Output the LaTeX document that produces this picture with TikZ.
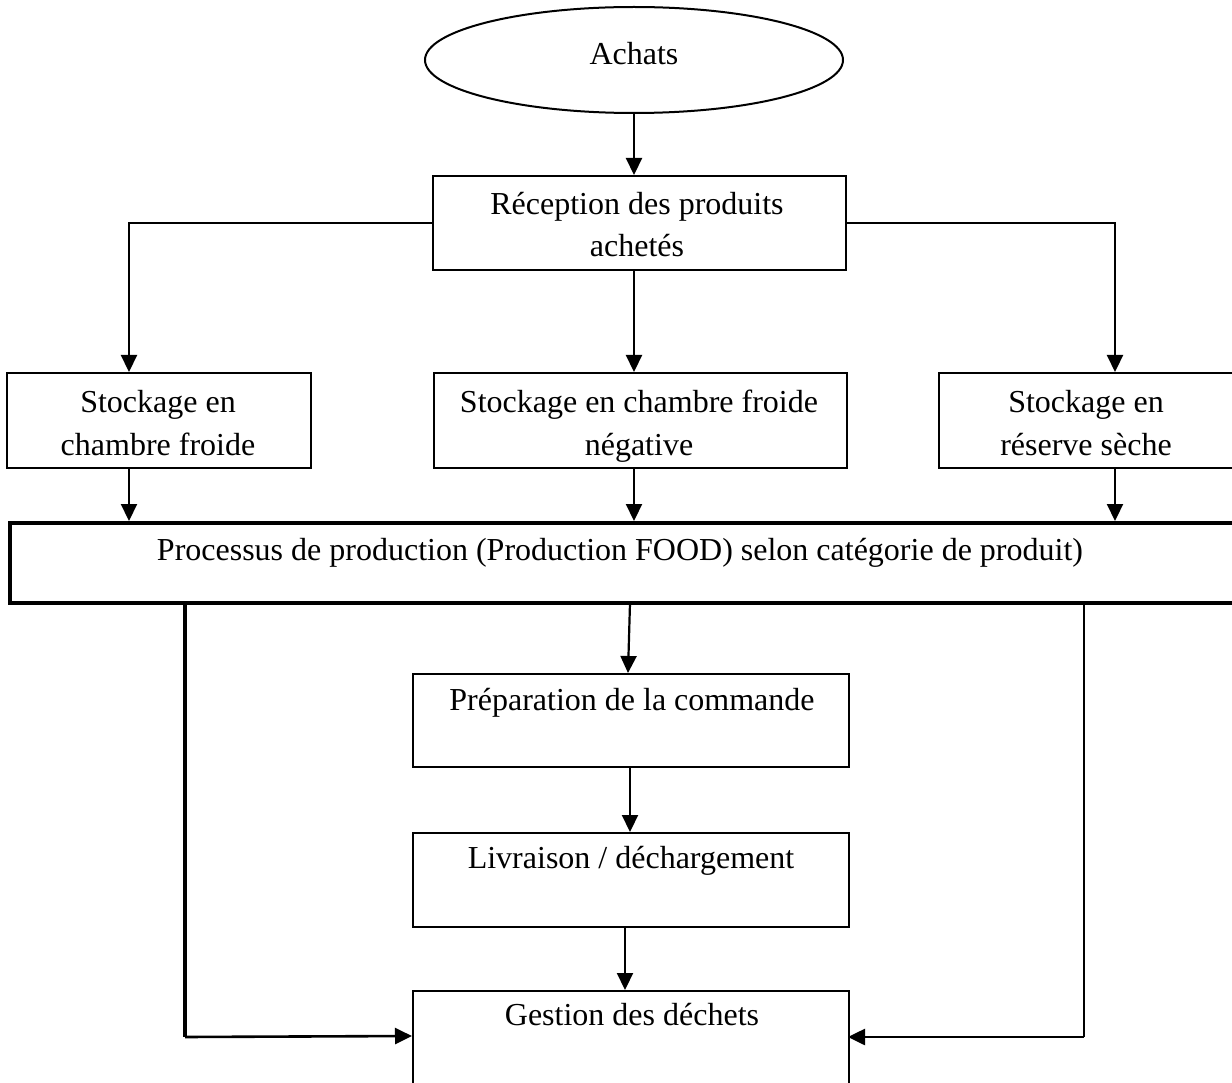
\documentclass[tikz,border=0pt]{standalone}
\usepackage{fontspec}
\setmainfont{Liberation Serif}
\usetikzlibrary{arrows.meta,shapes.geometric}

\tikzset{
  box/.style={draw, line width=2pt, rectangle, inner sep=0pt, anchor=north west},
  bigbox/.style={draw, line width=3.8pt, rectangle, inner sep=0pt, anchor=north west},
  lbl/.style={font=\fontsize{32}{42}\selectfont, anchor=base, inner sep=0pt},
  arr/.style={line width=2.2pt, -{Triangle[width=16pt,length=17pt]}},
  thickline/.style={line width=3.6pt},
  midline/.style={line width=2.8pt},
}

\begin{document}
\begin{tikzpicture}[x=1pt,y=-1pt]
\useasboundingbox (0,0) rectangle (1232,1083);

% nodes
\node[draw, ellipse, line width=2pt, minimum width=418pt, minimum height=106pt, inner sep=0pt] (achats) at (634,60) {};
\node[lbl] (achatsT) at (634,65) {Achats};

\node[box, minimum width=413pt, minimum height=94pt] (rec) at (432,175) {};
\node[lbl] (recT1) at (637,215) {Réception des produits};
\node[lbl] (recT2) at (637,257) {achetés};

\node[box, minimum width=304pt, minimum height=95pt] (s1) at (6,372) {};
\node[lbl] (s1T1) at (158,412) {Stockage en};
\node[lbl] (s1T2) at (158,455) {chambre froide};

\node[box, minimum width=413pt, minimum height=95pt] (s2) at (433,372) {};
\node[lbl] (s2T1) at (639,412) {Stockage en chambre froide};
\node[lbl] (s2T2) at (639,455) {négative};

\node[box, minimum width=300pt, minimum height=95pt] (s3) at (938,372) {};
\node[lbl] (s3T1) at (1086,412) {Stockage en};
\node[lbl] (s3T2) at (1086,455) {réserve sèche};

\node[bigbox, minimum width=1240pt, minimum height=80pt] (proc) at (8,521) {};
\node[lbl] (procT) at (620,560) {Processus de production (Production FOOD) selon catégorie de produit)};

\node[box, minimum width=436pt, minimum height=93pt] (prep) at (412,673) {};
\node[lbl] (prepT) at (632,710) {Préparation de la commande};

\node[box, minimum width=436pt, minimum height=94pt] (livr) at (412,832) {};
\node[lbl] (livrT) at (631,868) {Livraison / déchargement};

\node[box, minimum width=436pt, minimum height=140pt] (gest) at (412,990) {};
\node[lbl] (gestT) at (632,1025) {Gestion des déchets};

% junction points on the box edges
\coordinate (s1in) at (129,372);
\coordinate (s3in) at (1115,372);
\coordinate (p1in) at (129,521);
\coordinate (p2in) at (634,521);
\coordinate (p3in) at (1115,521);
\coordinate (s1out) at (129,467);
\coordinate (s3out) at (1115,467);
\coordinate (pout) at (630,603);
\coordinate (prepin) at (628,673);
\coordinate (prepout) at (630,766);
\coordinate (livrin) at (630,832);
\coordinate (livrout) at (625,926);
\coordinate (gestin) at (625,990);
\coordinate (lTop) at (185,601);
\coordinate (lBot) at (185,1037);
\coordinate (rTop) at (1084,601);
\coordinate (rBot) at (1084,1037);
\coordinate (gW) at (412,1036);
\coordinate (gE) at (848,1037);

% connectors
\draw[arr] (achats.south) -- (rec.north -| achats.south);
\draw[arr] (rec.west) -| (s1in);
\draw[arr] (rec.east) -| (s3in);
\draw[arr] (rec.south -| p2in) -- (s2.north -| p2in);

\draw[arr] (s1out) -- (p1in);
\draw[arr] (s2.south -| p2in) -- (p2in);
\draw[arr] (s3out) -- (p3in);

\draw[arr] (pout) -- (prepin);
\draw[arr] (prepout) -- (livrin);
\draw[arr] (livrout) -- (gestin);

\draw[thickline] (lTop) -- (lBot);
\draw[arr, line width=2.6pt] (lBot) -- (gW);
\draw[midline] (rTop) -- (rBot);
\draw[arr, line width=2.6pt] (rBot) -- (gE);
\end{tikzpicture}
\end{document}
